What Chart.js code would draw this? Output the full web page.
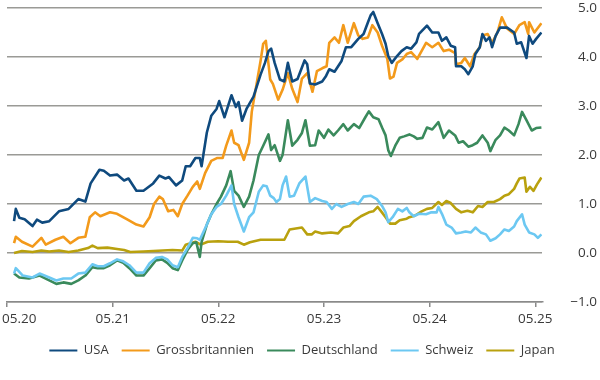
<!DOCTYPE html>
<html>
<head>
<meta charset="utf-8">
<script src="https://cdn.jsdelivr.net/npm/chart.js@4/dist/chart.umd.min.js"></script>
<style>
html,body{margin:0;padding:0;background:#fff;}
#wrap{width:600px;height:380px;position:relative;}
</style>
</head>
<body>
<div id="wrap"><canvas id="c" width="600" height="380"></canvas></div>
<script>
// x = months since May 2020, y = percent
const seriesNames = ["USA", "Grossbritannien", "Deutschland", "Schweiz", "Japan"];
const seriesColors = ["#0f4a7e", "#f39a1b", "#3a8a5c", "#6cc8f2", "#b9a10e"];

const xTickMonths = [0, 12, 24, 36, 48, 60];
const xTickLabels = ["05.20", "05.21", "05.22", "05.23", "05.24", "05.25"];
const yTickValues = [-1, 0, 1, 2, 3, 4, 5];
const yTickLabels = ["\u22121.0", "0.0", "1.0", "2.0", "3.0", "4.0", "5.0"];

const usa = [[0.8,0.65],[1.0,0.9],[1.4,0.72],[2.0,0.69],[2.9,0.55],[3.4,0.68],[4.0,0.62],[4.8,0.65],[5.9,0.85],[7.0,0.9],[8.1,1.1],[8.9,1.05],[9.5,1.42],[10.5,1.7],[11.0,1.68],[11.7,1.58],[12.5,1.6],[13.3,1.48],[13.8,1.52],[14.7,1.27],[15.5,1.27],[16.6,1.42],[17.3,1.58],[18.0,1.52],[18.4,1.55],[19.2,1.38],[19.9,1.48],[20.3,1.77],[20.8,1.77],[21.4,1.94],[21.9,1.94],[22.1,1.77],[22.3,2.0],[22.7,2.46],[23.2,2.8],[23.8,2.94],[24.1,3.1],[24.7,2.77],[25.5,3.22],[26.0,2.98],[26.3,3.08],[26.7,2.7],[27.2,2.94],[28.0,3.19],[28.8,3.64],[29.3,3.88],[29.7,4.12],[30.0,4.17],[30.4,3.88],[31.0,3.54],[31.5,3.5],[31.9,3.88],[32.4,3.5],[33.0,3.55],[33.8,3.93],[34.1,3.85],[34.4,3.46],[35.0,3.44],[35.8,3.5],[36.2,3.6],[36.6,3.75],[37.2,3.7],[38.0,3.92],[38.5,4.2],[39.1,4.2],[39.9,4.37],[40.5,4.47],[41.0,4.71],[41.3,4.85],[41.6,4.92],[42.1,4.69],[42.6,4.47],[43.0,4.27],[43.3,4.02],[43.7,3.88],[44.3,4.02],[44.8,4.12],[45.4,4.2],[45.9,4.17],[46.5,4.3],[46.8,4.47],[47.7,4.64],[48.3,4.5],[49.0,4.5],[49.4,4.33],[49.9,4.4],[50.4,4.23],[50.9,4.2],[51.0,3.81],[51.6,3.81],[52.0,3.75],[52.4,3.65],[52.9,3.81],[53.2,4.06],[53.7,4.2],[54.0,4.47],[54.4,4.33],[54.8,4.4],[55.1,4.2],[55.5,4.43],[56.0,4.6],[56.8,4.6],[57.6,4.5],[57.9,4.27],[58.4,4.3],[59.0,3.98],[59.3,4.43],[59.7,4.27],[60.1,4.37],[60.7,4.5]];

const uk = [[0.8,0.2],[1.0,0.33],[1.7,0.23],[2.9,0.13],[3.9,0.31],[4.4,0.17],[5.5,0.27],[6.4,0.33],[7.2,0.2],[8.1,0.31],[8.9,0.33],[9.4,0.73],[10.0,0.83],[10.6,0.75],[11.7,0.83],[12.5,0.8],[13.6,0.69],[14.7,0.58],[15.5,0.54],[16.2,0.73],[16.7,1.0],[17.3,1.15],[17.7,1.1],[18.3,0.85],[18.9,0.88],[19.4,0.75],[19.9,1.0],[20.5,1.17],[21.1,1.35],[21.6,1.46],[21.9,1.31],[22.5,1.63],[23.2,1.88],[23.9,1.94],[24.5,1.94],[24.9,2.19],[25.5,2.5],[25.8,2.25],[26.3,2.2],[26.9,1.9],[27.5,2.25],[27.8,2.88],[28.3,3.4],[28.8,3.92],[29.1,4.27],[29.4,4.33],[29.9,3.54],[30.2,3.45],[30.8,3.13],[31.3,3.33],[31.9,3.67],[32.4,3.35],[33.0,3.08],[33.5,3.56],[34.1,3.67],[34.7,3.29],[35.2,3.71],[35.8,3.77],[36.3,3.81],[36.6,4.29],[37.2,4.4],[37.7,4.29],[38.2,4.65],[38.7,4.29],[39.4,4.69],[39.9,4.44],[40.4,4.37],[41.0,4.4],[41.5,4.65],[42.1,4.5],[42.6,4.23],[43.2,3.96],[43.5,3.56],[43.9,3.6],[44.3,3.88],[44.9,3.95],[45.4,4.06],[45.9,4.1],[46.5,3.98],[46.6,3.96],[47.6,4.29],[48.3,4.2],[49.0,4.29],[49.6,4.12],[50.2,4.15],[50.9,4.08],[51.0,3.85],[51.6,3.88],[52.0,3.98],[52.6,3.81],[53.1,4.06],[53.7,4.2],[54.0,4.44],[54.6,4.47],[55.1,4.29],[55.7,4.5],[56.2,4.81],[56.8,4.58],[57.6,4.47],[58.2,4.65],[58.8,4.71],[59.2,4.47],[59.3,4.71],[59.9,4.5],[60.7,4.69]];

const de = [[0.8,-0.42],[1.4,-0.5],[2.5,-0.52],[3.7,-0.46],[4.8,-0.56],[5.6,-0.63],[6.4,-0.6],[7.3,-0.63],[8.1,-0.56],[8.9,-0.46],[9.7,-0.29],[10.3,-0.31],[11.0,-0.31],[11.7,-0.25],[12.5,-0.15],[13.2,-0.2],[13.9,-0.31],[14.7,-0.46],[15.5,-0.46],[16.2,-0.31],[16.9,-0.15],[17.6,-0.13],[18.2,-0.2],[18.8,-0.31],[19.4,-0.35],[19.9,-0.15],[20.5,0.06],[21.1,0.2],[21.5,0.22],[21.9,-0.08],[22.1,0.22],[22.7,0.58],[23.2,0.79],[23.8,1.0],[24.3,1.15],[24.9,1.38],[25.4,1.67],[25.8,1.27],[26.3,1.17],[26.9,0.94],[27.5,1.15],[28.0,1.48],[28.6,2.0],[29.1,2.19],[29.7,2.42],[30.0,2.1],[30.4,2.2],[31.0,1.88],[31.3,2.0],[31.9,2.71],[32.4,2.19],[33.0,2.31],[33.5,2.45],[33.9,2.71],[34.4,2.19],[35.0,2.2],[35.4,2.5],[36.0,2.35],[36.5,2.52],[37.1,2.4],[37.6,2.5],[38.2,2.63],[38.7,2.5],[39.4,2.63],[40.0,2.55],[40.7,2.77],[41.1,2.89],[41.6,2.77],[42.2,2.73],[42.6,2.56],[43.0,2.4],[43.3,2.1],[43.6,1.98],[44.1,2.19],[44.6,2.35],[45.1,2.38],[45.7,2.42],[46.2,2.38],[46.6,2.33],[47.2,2.35],[47.7,2.56],[48.3,2.52],[49.0,2.67],[49.6,2.35],[50.2,2.5],[50.9,2.4],[51.3,2.25],[51.8,2.28],[52.4,2.17],[52.9,2.2],[53.4,2.25],[54.0,2.4],[54.6,2.25],[54.9,2.08],[55.5,2.31],[56.0,2.4],[56.5,2.56],[57.0,2.5],[57.6,2.4],[58.1,2.63],[58.5,2.88],[59.0,2.71],[59.6,2.5],[60.1,2.55],[60.7,2.56]];

const ch = [[0.8,-0.42],[1.0,-0.31],[1.8,-0.46],[2.9,-0.5],[3.7,-0.42],[4.8,-0.5],[5.6,-0.56],[6.4,-0.52],[7.3,-0.52],[8.1,-0.42],[8.9,-0.4],[9.7,-0.23],[10.3,-0.27],[11.0,-0.27],[11.7,-0.21],[12.5,-0.13],[13.2,-0.17],[13.9,-0.25],[14.7,-0.4],[15.5,-0.4],[16.2,-0.21],[16.9,-0.1],[17.6,-0.08],[18.2,-0.13],[18.8,-0.25],[19.4,-0.29],[19.9,-0.08],[20.5,0.1],[21.1,0.31],[21.6,0.3],[21.9,0.27],[22.7,0.58],[23.2,0.79],[23.8,0.94],[24.3,1.0],[24.9,1.17],[25.5,1.38],[25.8,1.0],[26.3,0.73],[26.9,0.44],[27.5,0.73],[28.0,0.83],[28.6,1.25],[29.1,1.38],[29.5,1.36],[29.9,1.17],[30.3,1.12],[30.6,1.04],[31.0,1.1],[31.3,1.38],[31.7,1.56],[32.1,1.15],[32.6,1.17],[33.2,1.42],[33.9,1.56],[34.4,1.04],[35.0,1.12],[35.8,1.06],[36.3,1.04],[36.9,0.9],[37.4,1.0],[38.0,0.94],[38.7,1.0],[39.4,1.04],[39.9,1.0],[40.5,1.15],[41.3,1.17],[42.0,1.1],[42.6,0.96],[43.0,0.83],[43.3,0.63],[43.8,0.73],[44.4,0.9],[44.9,0.85],[45.4,0.92],[45.7,0.83],[46.2,0.75],[46.8,0.8],[47.6,0.79],[48.2,0.83],[48.8,0.83],[49.0,0.94],[49.4,0.8],[49.9,0.58],[50.5,0.52],[51.0,0.4],[51.6,0.42],[52.1,0.44],[52.7,0.42],[53.2,0.52],[53.8,0.42],[54.4,0.38],[54.9,0.25],[55.5,0.3],[56.0,0.38],[56.5,0.48],[57.0,0.45],[57.6,0.54],[57.9,0.65],[58.5,0.79],[58.8,0.58],[59.3,0.42],[59.9,0.38],[60.3,0.31],[60.7,0.38]];

const jp = [[0.8,0.0],[1.7,0.04],[2.9,0.02],[3.9,0.05],[4.8,0.03],[5.9,0.05],[7.0,0.02],[8.1,0.05],[9.2,0.1],[9.7,0.15],[10.3,0.1],[11.4,0.11],[12.5,0.08],[13.3,0.06],[14.0,0.02],[15.5,0.03],[16.6,0.04],[17.7,0.05],[18.8,0.06],[19.9,0.05],[20.3,0.17],[21.4,0.23],[22.0,0.17],[22.8,0.23],[24.0,0.24],[25.1,0.23],[26.2,0.23],[26.9,0.17],[27.6,0.22],[28.8,0.27],[30.3,0.27],[31.5,0.27],[32.1,0.48],[32.8,0.5],[33.5,0.52],[34.1,0.38],[34.6,0.38],[35.0,0.44],[35.8,0.4],[36.8,0.42],[37.6,0.4],[38.2,0.52],[38.9,0.55],[39.4,0.65],[40.2,0.75],[41.1,0.83],[41.6,0.85],[42.1,0.94],[42.5,0.85],[43.0,0.73],[43.5,0.6],[44.1,0.6],[44.6,0.67],[45.4,0.7],[45.7,0.73],[46.3,0.76],[47.1,0.85],[47.7,0.9],[48.3,0.92],[49.0,1.04],[49.4,0.98],[49.9,1.06],[50.4,1.02],[51.0,0.9],[51.6,0.83],[52.3,0.86],[52.9,0.83],[53.5,0.96],[54.0,0.94],[54.6,1.04],[55.3,1.04],[56.0,1.1],[56.5,1.17],[57.0,1.2],[57.6,1.31],[57.9,1.42],[58.2,1.52],[58.8,1.54],[59.0,1.25],[59.4,1.35],[59.8,1.27],[60.2,1.4],[60.7,1.54]];

const seriesData = [usa, uk, de, ch, jp];
const drawOrder = [1, 2, 4, 3, 5];

const FONT = "'Open Sans', sans-serif";
const TEXT = "#3a3a3a";

const datasets = seriesData.map((s, i) => ({
  label: seriesNames[i],
  data: s.map(p => ({x: p[0], y: p[1]})),
  borderColor: seriesColors[i],
  backgroundColor: seriesColors[i],
  borderWidth: 2.6,
  pointRadius: 0,
  tension: 0,
  order: drawOrder[i],
  borderJoinStyle: 'round'
}));

const firstLabelPlugin = {
  id: 'firstLabel',
  beforeDraw(chart) {
    const s = chart.scales.x;
    const items = s.getLabelItems();
    if (items && items.length) {
      items[0].options.textAlign = 'left';
      items[0].options.translation[0] = 2;
    }
  }
};

new Chart(document.getElementById('c'), {
  type: 'line',
  data: { datasets },
  plugins: [firstLabelPlugin],
  options: {
    responsive: false,
    animation: false,
    events: [],
    layout: { padding: { left: 7, right: 3, top: 8, bottom: 13 } },
    plugins: {
      tooltip: { enabled: false },
      legend: {
        position: 'bottom',
        labels: {
          font: { family: FONT, size: 13 },
          color: TEXT,
          boxWidth: 28,
          boxHeight: 2,
          padding: 13,
          sort: (a, b) => a.datasetIndex - b.datasetIndex,
          generateLabels(chart) {
            const base = Chart.defaults.plugins.legend.labels.generateLabels(chart);
            return base.map(l => Object.assign(l, { lineWidth: 0, fillStyle: seriesColors[l.datasetIndex] }));
          }
        }
      }
    },
    scales: {
      x: {
        type: 'linear',
        min: 0,
        max: 60.8,
        afterBuildTicks(scale) {
          scale.ticks = xTickMonths.map(v => ({ value: v }));
        },
        afterFit(scale) {
          scale.paddingLeft = 0;
          scale.paddingRight = 0;
          scale.height = 29;
        },
        ticks: {
          autoSkip: false,
          maxRotation: 0,
          padding: 4,
          font: { family: FONT, size: 13.5 },
          color: TEXT,
          callback: (v) => xTickLabels[xTickMonths.indexOf(v)]
        },
        grid: {
          drawOnChartArea: false,
          drawTicks: true,
          tickLength: 5,
          color: '#8a8a8a',
          lineWidth: 1.5
        },
        border: { display: true, color: '#8a8a8a', width: 1.5 }
      },
      y: {
        position: 'right',
        min: -1,
        max: 5,
        afterBuildTicks(scale) {
          scale.ticks = yTickValues.map(v => ({ value: v }));
        },
        afterFit(scale) {
          scale.paddingTop = 0;
          scale.paddingBottom = 0;
        },
        ticks: {
          padding: 14,
          crossAlign: 'far',
          font: { family: FONT, size: 13.5 },
          color: TEXT,
          callback: (v) => yTickLabels[yTickValues.indexOf(v)]
        },
        grid: {
          drawTicks: false,
          color: '#9a9a96',
          lineWidth: 1.5
        },
        border: { display: false }
      }
    }
  }
});
</script>
</body>
</html>
